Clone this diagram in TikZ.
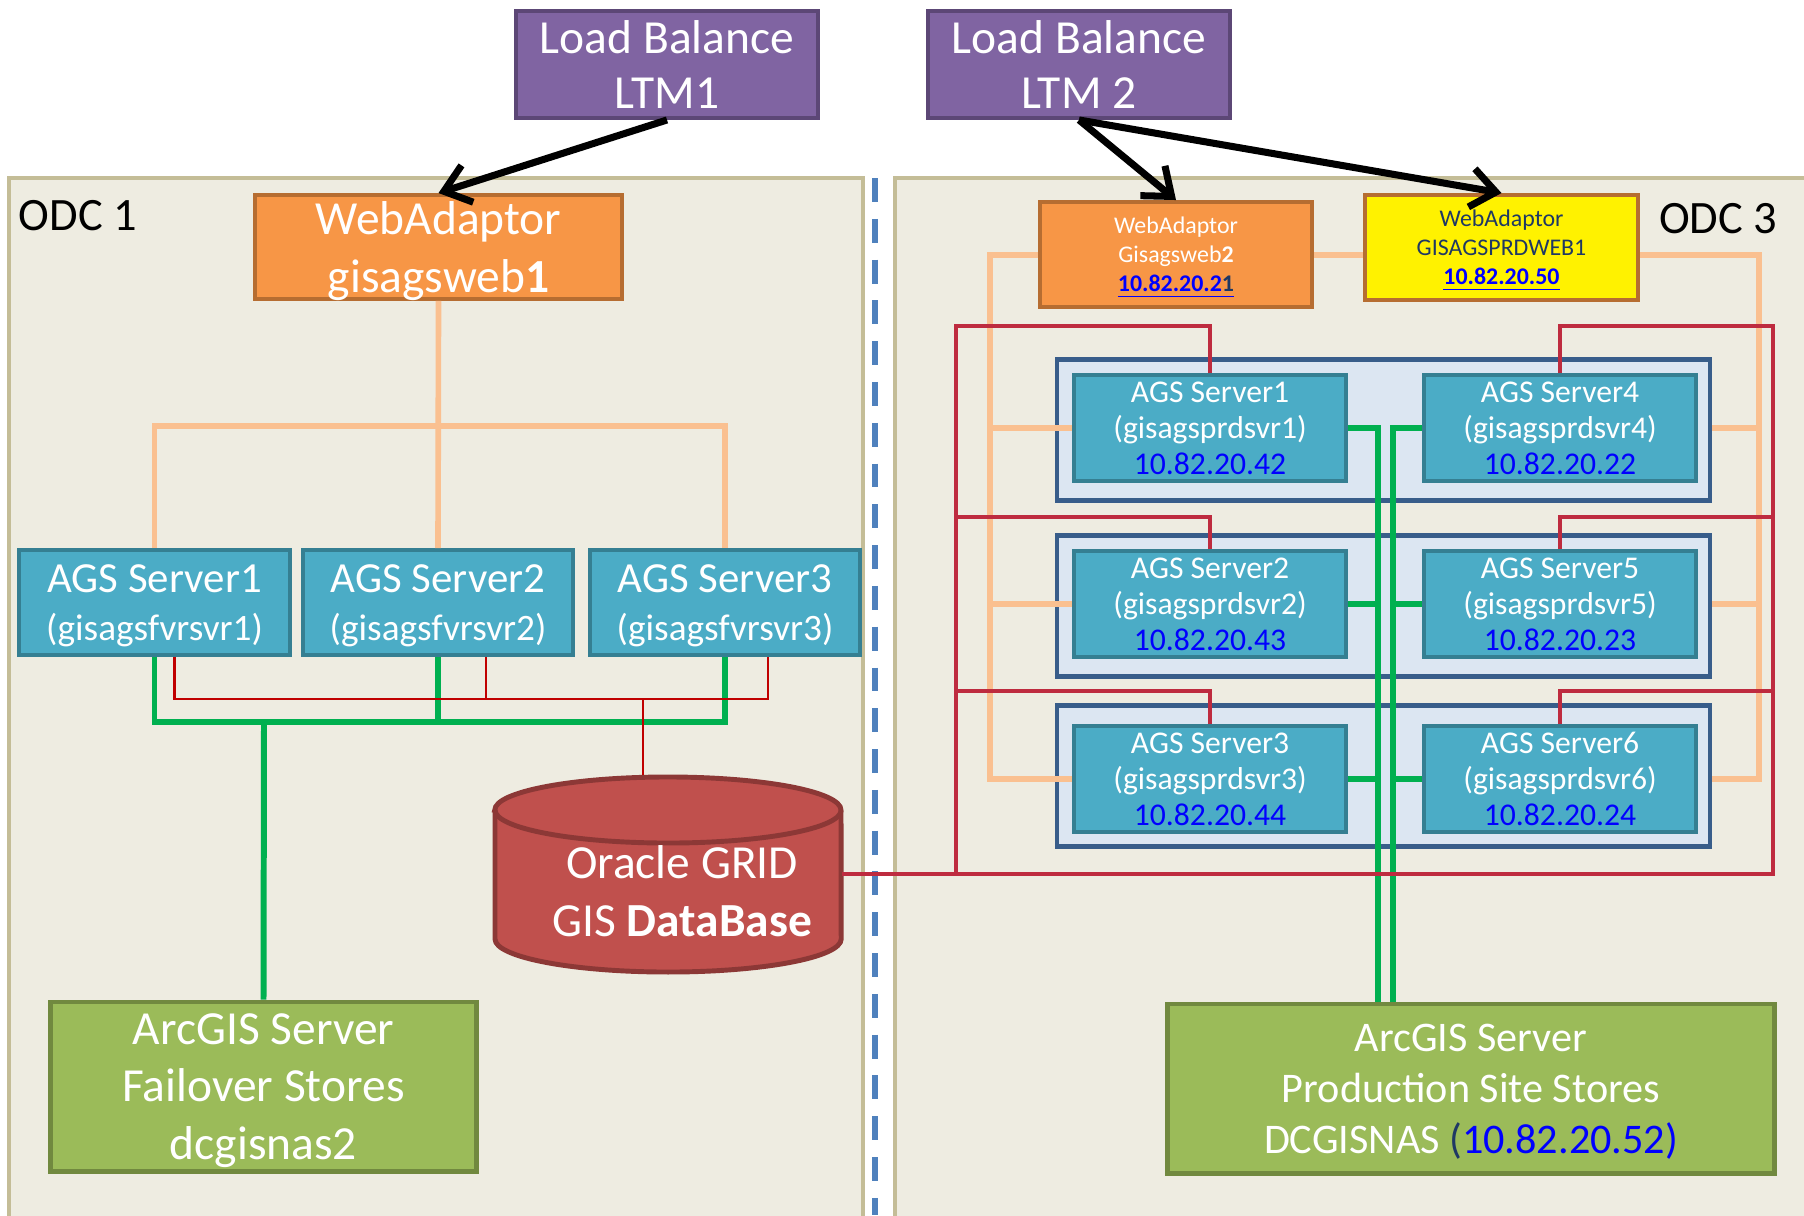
\documentclass[tikz,border=0pt]{standalone}
\usepackage{fontspec}
\setmainfont{Carlito}
\usetikzlibrary{arrows.meta}
\definecolor{lbfill}{HTML}{8064A2}
\definecolor{lbline}{HTML}{5C4776}
\definecolor{wafill}{HTML}{F79646}
\definecolor{waline}{HTML}{B66D31}
\definecolor{svfill}{HTML}{4BACC6}
\definecolor{svline}{HTML}{357F92}
\definecolor{grfill}{HTML}{DCE6F2}
\definecolor{grline}{HTML}{385D8A}
\definecolor{stfill}{HTML}{9BBB59}
\definecolor{stline}{HTML}{71893F}
\definecolor{dbfill}{HTML}{C0504D}
\definecolor{dbline}{HTML}{8C3836}
\definecolor{odcfill}{HTML}{EEECE1}
\definecolor{odcline}{HTML}{C4BD97}
\definecolor{sepblue}{HTML}{4F81BD}
\definecolor{lnorange}{HTML}{FAC090}
\definecolor{lngreen}{HTML}{00B050}
\definecolor{lnred}{HTML}{BE2B3F}
\definecolor{lnthin}{HTML}{C00000}
\definecolor{ipblue}{HTML}{0000FF}
\definecolor{navy}{HTML}{1F3864}
\begin{document}
\begin{tikzpicture}[x=0.01cm,y=-0.01cm,>={Straight Barb[length=7pt,width=11pt]},
	tile/.style={draw,line width=1.1pt,align=center,inner sep=0pt,text=white,text depth=0pt},
	lb/.style={tile,draw=lbline,fill=lbfill,minimum width=3.02cm,minimum height=1.07cm,font=\fontsize{13.5}{15.6}\selectfont},
	wa/.style={tile,draw=waline,fill=wafill},
	fsv/.style={tile,draw=svline,fill=svfill,minimum width=2.7cm,minimum height=1.05cm,font=\fontsize{12.2}{13.6}\selectfont},
	psv/.style={tile,draw=svline,fill=svfill,minimum width=2.72cm,minimum height=1.06cm,font=\fontsize{9}{10.2}\selectfont},
	grp/.style={draw=grline,fill=grfill,line width=1.2pt,minimum width=6.52cm,minimum height=1.41cm},
	store/.style={tile,draw=stline,fill=stfill,line width=1.4pt,minimum height=1.69cm},
	odc/.style={font=\fontsize{13.2}{15}\selectfont},
	oline/.style={lnorange,line width=1.6pt},
	gline/.style={lngreen,line width=1.7pt},
	rline/.style={lnred,line width=1.1pt},
	rthin/.style={lnthin,line width=0.6pt}]
	\useasboundingbox (0,0) rectangle (1804,1215);
	\draw[odcline,fill=odcfill,line width=1.4pt] (9,178) rectangle (863,1240);
	\draw[odcline,fill=odcfill,line width=1.4pt] (895,178) rectangle (1830,1240);
	\draw[sepblue,line width=1.7pt,dash pattern=on 6.8pt off 4.8pt] (875,178) -- (875,1215);
	\node[odc] (odc1) at (78,216) {ODC 1};
	\node[odc] (odc3) at (1718,219) {ODC 3};
	\node[lb] (ltm1) at (667,64.5) {Load Balance\\LTM1};
	\node[lb] (ltm2) at (1079,64.5) {Load Balance\\LTM 2};
	\node[wa,minimum width=3.67cm,minimum height=1.04cm,font=\fontsize{13.5}{16.3}\selectfont] (web1) at (438.5,247) {WebAdaptor\\gisagsweb\textbf{1}};
	\node[wa,minimum width=2.72cm,minimum height=1.05cm,font=\fontsize{6.8}{8.2}\selectfont] (web2) at (1176,254.5) {WebAdaptor\\Gisagsweb\textbf{2}\\\textcolor{ipblue}{\underline{\textbf{10.82.20.2\textcolor{navy}{1}}}}};
	\node[wa,fill=yellow,text=navy,minimum width=2.73cm,minimum height=1.05cm,font=\fontsize{6.8}{8.2}\selectfont] (web3) at (1501.5,247.5) {WebAdaptor\\GISAGSPRDWEB1\\\textcolor{ipblue}{\underline{\textbf{10.82.20.50}}}};
	\foreach \i/\x in {1/154.5,2/438,3/725}
		\node[fsv] (fsvr\i) at (\x,602.5) {AGS Server\i\\{\fontsize{10.6}{13.6}\selectfont(gisagsfvrsvr\i)}};
	\foreach \i/\y in {1/430,2/606,3/776}
		\node[grp] (g\i) at (1383.5,\y) {};
	\foreach \i/\x/\y/\ip in {1/1210/428/42,2/1210/604/43,3/1210/779/44,4/1560/428/22,5/1560/604/23,6/1560/779/24}
		\node[psv] (s\i) at (\x,\y) {AGS Server\i\\(gisagsprdsvr\i)\\\textcolor{ipblue}{10.82.20.\ip}};
	\node[minimum width=3.46cm,minimum height=1.96cm,inner sep=0pt] (db) at (668,874) {};
	\filldraw[draw=dbline,fill=dbfill,line width=1.4pt] (495,810) -- (495,939) arc[start angle=180,end angle=360,x radius=1.73cm,y radius=0.33cm] -- (841,810) arc[start angle=0,end angle=180,x radius=1.73cm,y radius=0.33cm] -- cycle;
	\draw[dbline,line width=1.4pt] (495,810) arc[start angle=180,end angle=360,x radius=1.73cm,y radius=0.33cm];
	\node[text=white,align=center,font=\fontsize{13.5}{16.4}\selectfont] (dbtext) at (682,891) {Oracle GRID\\GIS \textbf{DataBase}};
	\node[store,minimum width=4.25cm,font=\fontsize{13.5}{16.4}\selectfont] (fail) at (263.5,1086.5) {ArcGIS Server\\Failover Stores\\dcgisnas2};
	\node[store,minimum width=6.06cm,font=\fontsize{12}{14.5}\selectfont] (prod) at (1471,1088.5) {ArcGIS Server\\Production Site Stores\\DCGISNAS \textcolor{navy}{(}\textcolor{ipblue}{10.82.20.52)}};
	\coordinate (obus) at (438.5,426);
	\draw[oline] (web1.south) -- (fsvr2.north);
	\draw[oline] (fsvr1.north) |- (obus) -| (fsvr3.north);
	\coordinate (gbus) at (264,722);
	\draw[gline] (fsvr1.south) |- (gbus) -| (fsvr3.south);
	\draw[gline] (fsvr2.south) -- (fsvr2.south |- gbus);
	\draw[gline] (gbus) -- (fail.north);
	\coordinate (r1) at ([xshift=0.2cm]fsvr1.south);
	\coordinate (r2) at ([xshift=0.48cm]fsvr2.south);
	\coordinate (r3) at ([xshift=0.43cm]fsvr3.south);
	\coordinate (rbus) at (643,699);
	\draw[rthin] (r1) |- (rbus) -| (r3);
	\draw[rthin] (r2) -- (r2 |- rbus);
	\draw[rthin] (rbus) -- (rbus |- db.north);
	\coordinate (obl) at (990,255);
	\coordinate (obr) at (1759,255);
	\draw[oline] (web2.west |- obl) -- (obl) |- (s3.west);
	\draw[oline] (obl |- s1.west) -- (s1.west);
	\draw[oline] (obl |- s2.west) -- (s2.west);
	\draw[oline] (web2.east |- obl) -- (web3.west |- obl);
	\draw[oline] (web3.east |- obr) -- (obr) |- (g3.east |- s6.east);
	\draw[oline] (g1.east |- s4.east) -- (obr |- s4.east);
	\draw[oline] (g2.east |- s5.east) -- (obr |- s5.east);
	\coordinate (gl) at (1378,0);
	\coordinate (gr) at (1393,0);
	\draw[gline] (s1.east) -| (gl |- prod.north);
	\draw[gline] (s2.east) -- (gl |- s2.east);
	\draw[gline] (s3.east) -- (gl |- s3.east);
	\draw[gline] (s4.west) -| (gr |- prod.north);
	\draw[gline] (s5.west) -- (gr |- s5.west);
	\draw[gline] (s6.west) -- (gr |- s6.west);
	\coordinate (ra) at (956,326);
	\coordinate (rb) at (956,517);
	\coordinate (rc) at (956,691);
	\coordinate (qa) at (1773,326);
	\coordinate (qb) at (1773,517);
	\coordinate (qc) at (1773,691);
	\draw[rline] (s1.north) |- (ra) -- (ra |- db.east);
	\draw[rline] (s2.north) |- (rb);
	\draw[rline] (s3.north) |- (rc);
	\draw[rline] (db.east) -| (qa) -| (s4.north);
	\draw[rline] (qb) -| (s5.north);
	\draw[rline] (qc) -| (s6.north);
	\draw[->,line width=2pt] (ltm1.south) -- (web1.north);
	\draw[->,line width=2pt] (ltm2.south) -- (web2.north);
	\draw[->,line width=2pt] (ltm2.south) -- (web3.north);
\end{tikzpicture}
\end{document}
